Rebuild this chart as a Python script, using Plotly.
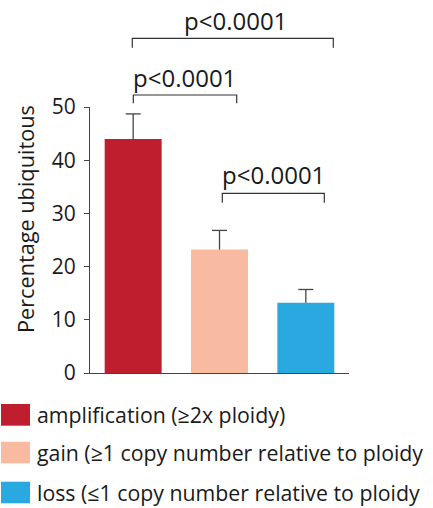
import plotly.graph_objects as go

# Data
categories = ["amplification", "gain", "loss"]
values = [44.0, 23.2, 13.2]
errors = [4.7, 3.6, 2.5]
colors = ["#BE1E2D", "#F9BAA2", "#29A9E0"]
legend_labels = [
    "amplification (\u22652x ploidy)",
    "gain (\u22651 copy number relative to ploidy",
    "loss (\u22641 copy number relative to ploidy",
]
p_labels = ["p<0.0001", "p<0.0001", "p<0.0001"]

W, H = 433, 508
ML, MR, MT, MB = 90, 84, 107, 135
PW, PH = W - ML - MR, H - MT - MB
FONT = "Open Sans"


def px_x(px):
    return (px - ML) / PW


def px_y(py):
    return (H - MB - py) / PH


xs = list(range(len(categories)))

fig = go.Figure()
fig.add_trace(go.Bar(
    x=xs, y=values, marker=dict(color=colors, line=dict(width=0)),
    width=0.66, showlegend=False, hoverinfo="skip",
))

# upper-only error bars
cap = 0.087
ex, ey = [], []
for xi, v, e in zip(xs, values, errors):
    ex += [xi, xi, None, xi - cap, xi + cap, None]
    ey += [v, v + e, None, v + e, v + e, None]
fig.add_trace(go.Scatter(
    x=ex, y=ey, mode="lines", line=dict(color="#444444", width=1.3),
    showlegend=False, hoverinfo="skip",
))

shapes = []
annotations = []

# significance brackets: (x0, x1, y_bar, y_foot, label_x, label_y) in pixels
brackets = [
    (132.3, 333.3, 38.3, 47.7, 235.5, 20.5),
    (133.3, 236.7, 95.0, 103.3, 184.5, 77.0),
    (222.3, 324.3, 193.3, 202.7, 273.5, 174.5),
]
for (x0, x1, yb, yf, lx, ly), lab in zip(brackets, p_labels):
    shapes.append(dict(
        type="path", xref="paper", yref="paper",
        path=(f"M {px_x(x0)},{px_y(yf)} L {px_x(x0)},{px_y(yb)} "
              f"L {px_x(x1)},{px_y(yb)} L {px_x(x1)},{px_y(yf)}"),
        line=dict(color="#333333", width=1.2),
    ))
    annotations.append(dict(
        xref="paper", yref="paper", x=px_x(lx), y=px_y(ly),
        text=lab, showarrow=False, xanchor="center", yanchor="middle",
        font=dict(family=FONT, size=24, color="#1a1a1a"),
    ))

# y-axis title
annotations.append(dict(
    xref="paper", yref="paper", x=px_x(25), y=px_y(219),
    text="Percentage ubiquitous", textangle=-90, showarrow=False,
    xanchor="center", yanchor="middle",
    font=dict(family=FONT, size=21.7, color="#1a1a1a"),
))

# legend swatches and labels
rows = [(404, 425.7), (441.7, 463.3), (481.7, 503.3)]
for (y0, y1), col, lab in zip(rows, colors, legend_labels):
    shapes.append(dict(
        type="rect", xref="paper", yref="paper",
        x0=px_x(1), x1=px_x(30), y0=px_y(y1), y1=px_y(y0),
        fillcolor=col, line=dict(width=0),
    ))
    annotations.append(dict(
        xref="paper", yref="paper", x=px_x(35), y=px_y((y0 + y1) / 2),
        text=lab, showarrow=False, xanchor="left", yanchor="middle",
        font=dict(family=FONT, size=21.3, color="#1a1a1a"),
    ))

fig.update_layout(
    width=W, height=H,
    margin=dict(l=ML, r=MR, t=MT, b=MB),
    paper_bgcolor="white", plot_bgcolor="white",
    bargap=0.34,
    shapes=shapes, annotations=annotations,
    font=dict(family=FONT, color="#1a1a1a"),
    xaxis=dict(
        range=[-0.5, 2.5], showticklabels=False, ticks="",
        showgrid=False, zeroline=False, showline=True,
        linecolor="#444444", linewidth=1.2,
    ),
    yaxis=dict(
        range=[0, 50], tickvals=[0, 10, 20, 30, 40, 50],
        ticks="outside", ticklen=5, tickwidth=1.2, tickcolor="#444444",
        showgrid=False, zeroline=False, showline=True,
        linecolor="#444444", linewidth=1.2, ticklabelstandoff=4,
        tickfont=dict(family=FONT, size=21, color="#1a1a1a"),
    ),
)

fig.write_html("out.html")
